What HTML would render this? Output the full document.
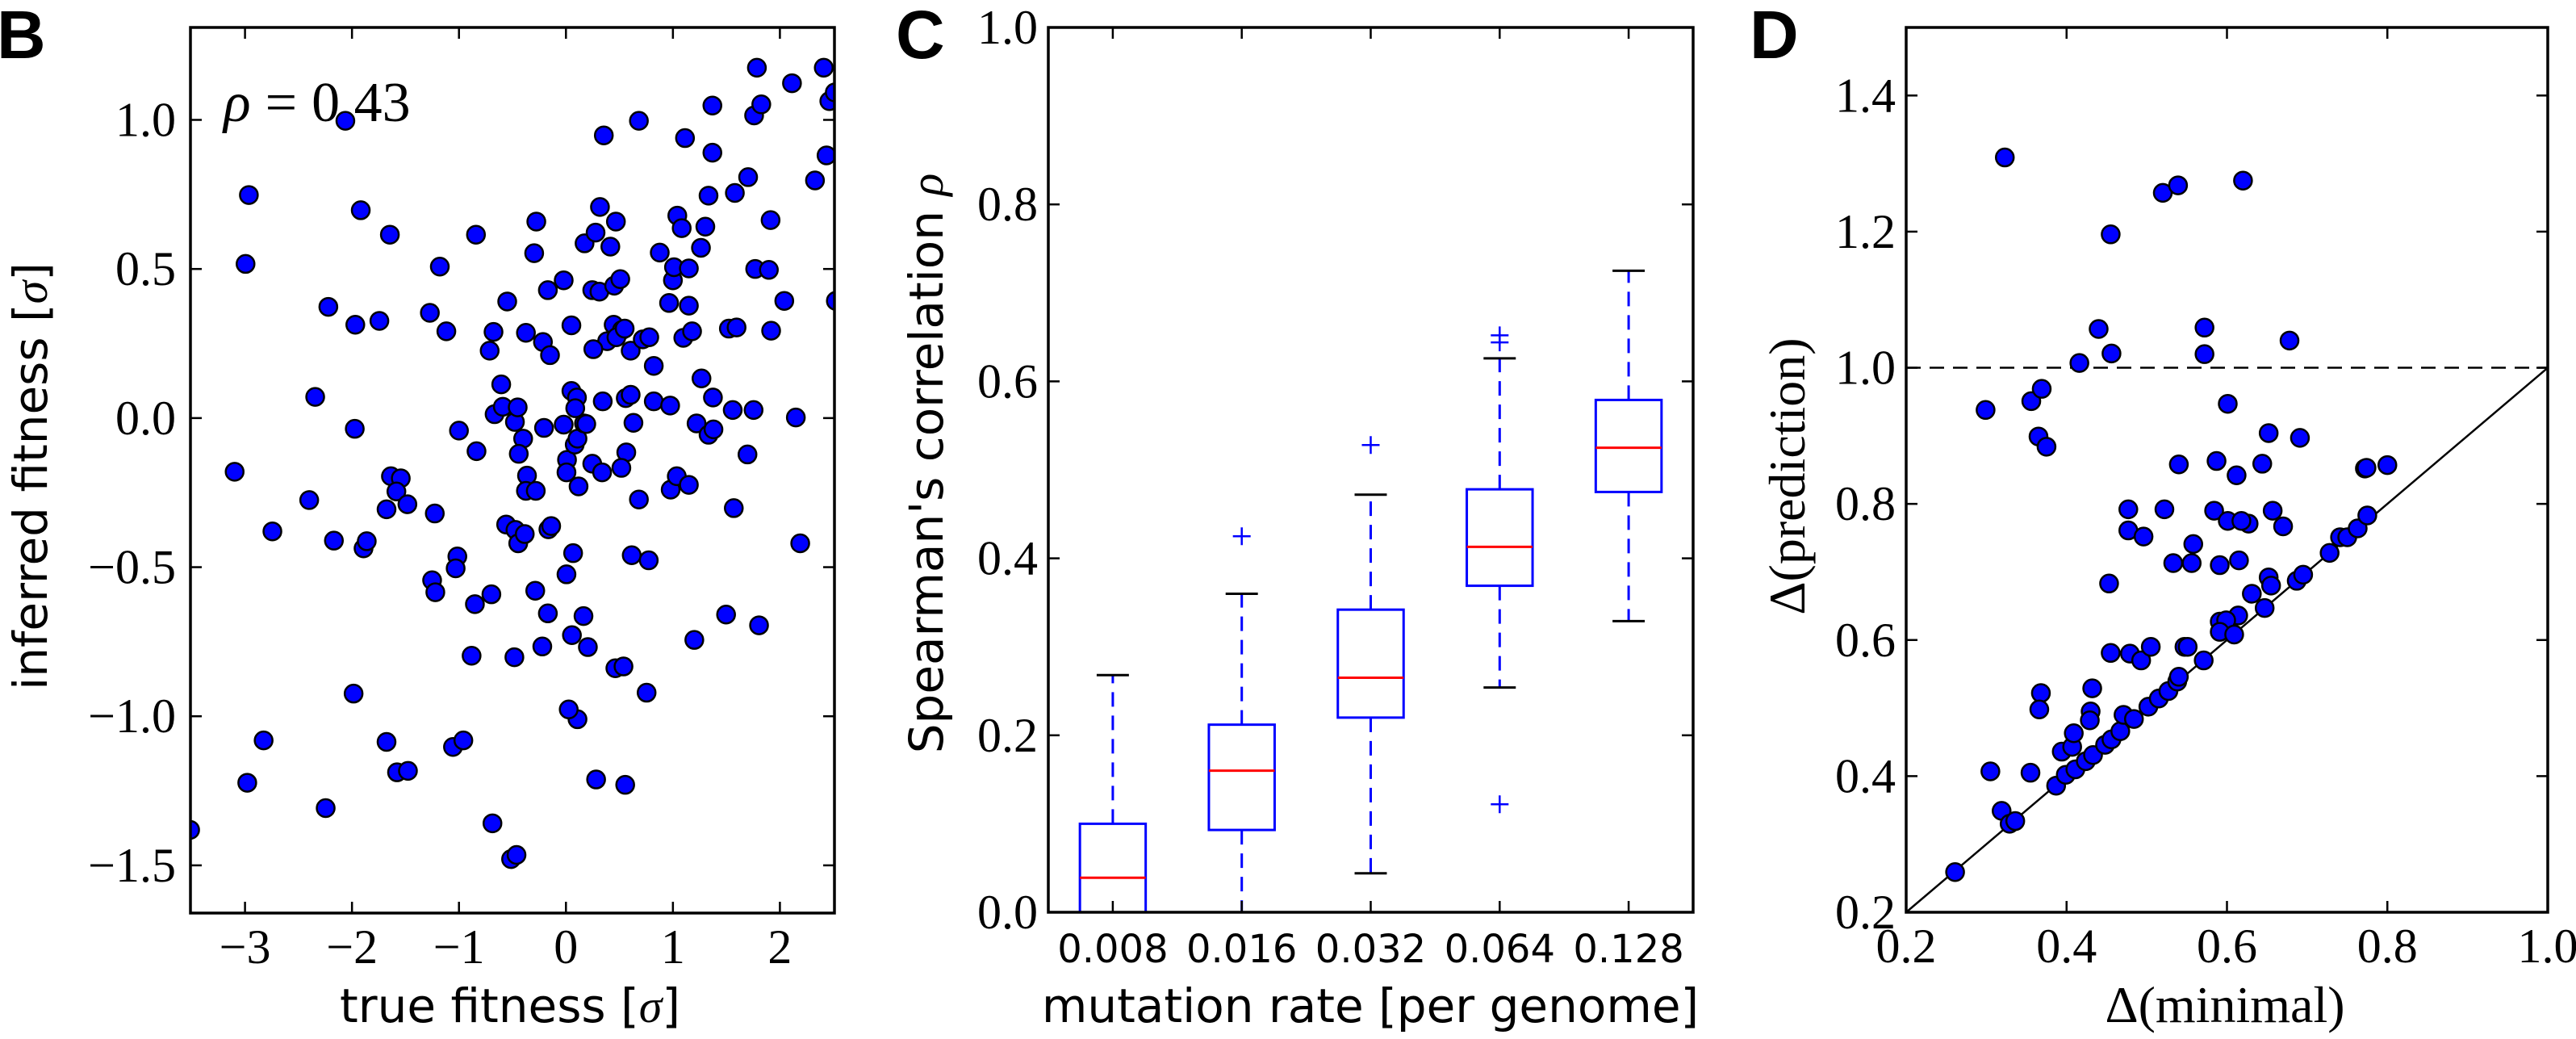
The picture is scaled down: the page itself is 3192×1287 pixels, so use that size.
<!DOCTYPE html>
<html><head><meta charset="utf-8"><style>
html,body{margin:0;padding:0;background:#fff;}
svg{display:block;}
.tk{font-family:"Liberation Serif",serif;font-size:60px;fill:#000;}
.ctk{font-family:"DejaVu Sans","Liberation Sans",sans-serif;font-size:48px;fill:#000;}
.lab{font-family:"DejaVu Sans","Liberation Sans",sans-serif;font-size:58px;fill:#000;}
.slab{font-family:"Liberation Serif",serif;font-size:64px;fill:#000;}
.pl{font-family:"Liberation Sans",sans-serif;font-weight:bold;font-size:84px;fill:#000;}
</style></head><body>
<svg id="fig" width="3192" height="1287" viewBox="0 0 3192 1287" xmlns="http://www.w3.org/2000/svg">
<text class="pl" x="-4" y="72">B</text>
<text class="pl" x="1110" y="72">C</text>
<text class="pl" x="2168" y="72">D</text>
<text x="277" y="150" style="font-family:'Liberation Serif',serif;font-size:70px;"><tspan font-style="italic">ρ</tspan><tspan dx="18">=</tspan><tspan dx="18">0.43</tspan></text>
<text class="lab" x="632" y="1266" text-anchor="middle">true fitness [<tspan font-family="Liberation Serif" font-style="italic">σ</tspan>]</text>
<text class="lab" transform="translate(58,590) rotate(-90)" text-anchor="middle">inferred fitness [<tspan font-family="Liberation Serif" font-style="italic">σ</tspan>]</text>
<text class="lab" x="1698" y="1266" text-anchor="middle">mutation rate [per genome]</text>
<text class="lab" transform="translate(1168,574) rotate(-90)" text-anchor="middle">Spearman's correlation <tspan font-family="Liberation Serif" font-style="italic">ρ</tspan></text>
<text class="slab" x="2757" y="1266" text-anchor="middle">Δ(minimal)</text>
<text class="slab" transform="translate(2236,590) rotate(-90)" text-anchor="middle">Δ(prediction)</text>
</svg>
<script>
// Panel B data
const bTrue = [];
const bInferred = [];
const bRaw = [[628,183],[452,295],[446,399],[426,713],[562,756],[573,600],[597,464],[646,491],[645,648],[656,318],[690,485],[709,355],[607,817],[661,829],[667,818],[711,720],[729,723],[721,743],[741,762],[703,770],[495,803],[479,1119],[449,1183],[592,1221],[643,1048],[703,1121],[722,1167],[742,1165],[824,1129],[843,1119],[345,1254],[782,473],[800,403],[812,501],[866,355],[835,651],[867,682],[791,776],[832,841],[829,859],[786,877],[792,895],[864,913],[858,991],[894,898],[896,1244],[930,1298],[940,1292],[936,993],[891,530],[898,502],[912,581],[923,456],[900,626],[915,615],[937,638],[942,616],[952,663],[944,686],[959,719],[957,742],[975,742],[921,793],[938,801],[943,821],[955,807],[974,893],[987,977],[997,927],[998,800],[1003,795],[990,647],[1026,642],[1032,695],[1031,714],[1031,868],[1043,836],[1041,960],[1051,1087],[1035,1072],[1085,1178],[1138,1186],[1120,1010],[1135,1007],[1177,1047],[1070,978],[1062,931],[1150,839],[1181,847],[1163,755],[1053,735],[1046,672],[1051,663],[1063,640],[1040,591],[1050,601],[1047,617],[1067,641],[1078,701],[1096,714],[1097,607],[1139,602],[1148,597],[1153,639],[1140,684],[1131,707],[976,335],[972,383],[957,503],[988,517],[1001,537],[997,439],[1026,424],[1040,492],[1064,368],[1078,439],[1084,352],[1091,441],[1092,313],[1099,205],[1111,373],[1121,335],[1118,432],[1129,422],[1117,491],[1105,516],[1132,499],[1122,510],[1137,497],[1080,528],[1148,530],[1163,183],[1170,513],[1182,510],[1190,553],[1201,382],[1190,607],[1218,458],[1220,613],[1221,740],[1232,720],[1225,424],[1227,404],[1233,326],[1241,345],[1247,209],[1254,406],[1254,462],[1244,511],[1260,501],[1254,733],[1264,967],[1268,640],[1277,572],[1284,343],[1276,375],[1290,296],[1297,231],[1297,160],[1290,657],[1299,649],[1298,601],[1334,620],[1338,292],[1336,768],[1322,929],[1327,497],[1341,495],[1362,268],[1361,687],[1372,620],[1373,175],[1378,103],[1386,158],[1375,407],[1400,408],[1403,333],[1404,500],[1382,945],[1428,455],[1442,126],[1449,631],[1457,821],[1484,273],[1505,235],[1510,153],[1500,103],[1520,140],[1522,455]];
bRaw.forEach(p=>{bTrue.push(+((p[0]-1030)/195).toFixed(3));bInferred.push(+((632-p[1])/450.4).toFixed(3));});
const bXTicks = [-3,-2,-1,0,1,2];
const bYTicks = [-1.5,-1.0,-0.5,0.0,0.5,1.0];

// Panel C data
const cCategories = ["0.008","0.016","0.032","0.064","0.128"];
const cWhiskerLow = [-0.2,-0.2,0.044,0.254,0.329];
const cQ1 = [-0.03,0.093,0.220,0.369,0.475];
const cMedian = [0.039,0.160,0.265,0.413,0.525];
const cQ3 = [0.100,0.212,0.342,0.478,0.579];
const cWhiskerHigh = [0.268,0.360,0.472,0.626,0.725];
const cOutliers = [[],[0.425],[0.528],[0.652,0.644,0.122],[]];
const cYTicks = [0.0,0.2,0.4,0.6,0.8,1.0];

// Panel D data
const dMinimal = [];
const dPrediction = [];
const dRaw = [[588,238],[859,292],[885,281],[997,273],[769,355],[748,497],[771,534],[716,549],[931,495],[930,535],[1077,515],[555,620],[633,606],[651,588],[645,660],[659,675],[971,610],[1041,655],[1095,662],[886,702],[951,697],[985,718],[1029,701],[1206,708],[1245,703],[862,770],[800,770],[799,802],[826,811],[947,772],[971,787],[1006,791],[994,787],[1047,772],[1066,795],[877,851],[911,822],[908,851],[957,854],[989,847],[766,882],[1041,872],[1045,885],[1012,897],[988,930],[956,939],[967,937],[956,955],[982,959],[1034,919],[769,987],[803,988],[822,998],[838,977],[896,977],[902,977],[929,998],[650,1047],[646,1072],[737,1040],[735,1075],[734,1088],[563,1165],[632,1167],[582,1225],[596,1244],[605,1240],[502,1317],[675,1187],[685,1135],[703,1128],[706,1108],[692,1170],[709,1162],[726,1150],[739,1141],[760,1125],[770,1117],[786,1105],[791,1080],[809,1086],[834,1068],[852,1055],[869,1044],[884,1030],[886,1022],[1089,878],[1100,868],[1146,835],[1163,812],[1175,812],[1193,799],[1210,779],[1208,707]];
dRaw.forEach(p=>{dMinimal.push(+(0.2+(p[0]-418)/275.5*0.2).toFixed(3));dPrediction.push(+(0.2+(1378-p[1])/205.5*0.2).toFixed(3));});
const dXTicks = [0.2,0.4,0.6,0.8,1.0];
const dYTicks = [0.2,0.4,0.6,0.8,1.0,1.2,1.4];

const NS="http://www.w3.org/2000/svg";
const svg=document.getElementById('fig');
function mk(tag,attrs,parent){const e=document.createElementNS(NS,tag);for(const k in attrs)e.setAttribute(k,attrs[k]);(parent||svg).appendChild(e);return e;}
function scale(d0,d1,p0,p1){return v=>p0+(v-d0)/(d1-d0)*(p1-p0);}

function axesFrame(name,L,R,T,B,xs,ys,xt,yt,xfmt,yfmt,ylabX,xcls){
  const g=mk('g',{});
  
  
  xt.forEach((v,i)=>{const x=xs(v);
    const t1=mk('line',{x1:x,x2:x,y1:B,y2:B-14,stroke:'#000','stroke-width':2.5},g);
    
    
    mk('line',{x1:x,x2:x,y1:T,y2:T+14,stroke:'#000','stroke-width':2.5},g);
    const tx=mk('text',{x:x,y:B+62,'text-anchor':'middle',class:xcls||'tk'},g);
    tx.textContent=xfmt(v,i);
    
    
  });
  yt.forEach(v=>{const y=ys(v);
    const t1=mk('line',{x1:L,x2:L+14,y1:y,y2:y,stroke:'#000','stroke-width':2.5},g);
    
    
    mk('line',{x1:R,x2:R-14,y1:y,y2:y,stroke:'#000','stroke-width':2.5},g);
    const tx=mk('text',{x:ylabX,y:y+20,'text-anchor':'end',class:'tk'},g);
    tx.textContent=yfmt(v);
    
    
  });
  return g;
}
function border(name,L,R,T,B){
  const r=mk('rect',{x:L,y:T,width:R-L,height:B-T,fill:'none',stroke:'#000','stroke-width':3.5});
  
  
}
const neg=s=>s.replace('-','−');

// ---- Panel B ----
{const L=236,R=1034,T=34,B=1131;
 const xs=scale(-3.51,2.51,L,R), ys=scale(-1.66,1.31,B,T);
 const cpb=mk('clipPath',{id:'clipB'});
 mk('rect',{x:L,y:T,width:R-L,height:B-T},cpb);
 const g=mk('g',{'clip-path':'url(#clipB)'});
 
 
 bTrue.forEach((v,i)=>{const c=mk('circle',{cx:xs(v),cy:ys(bInferred[i]),r:11,fill:'#0000ff',stroke:'#000','stroke-width':2.5},g);
   
   });
 axesFrame('b',L,R,T,B,xs,ys,bXTicks,bYTicks,v=>neg(String(v)),v=>neg(v.toFixed(1)),218);
 border('b',L,R,T,B);
}
// ---- Panel C ----
{const L=1299,R=2098,T=34,B=1130;
 const xs=scale(0.5,5.5,L,R), ys=scale(0,1,B,T);
 const cpc=mk('clipPath',{id:'clipC'});
 mk('rect',{x:L,y:T,width:R-L,height:B-T},cpc);
 cCategories.forEach((c,i)=>{const x=xs(i+1),hw=xs(1.255)-xs(1),cw=xs(1.125)-xs(1);
   const g=mk('g',{'clip-path':'url(#clipC)'});
   
   
   mk('line',{x1:x,x2:x,y1:ys(cQ3[i]),y2:ys(cWhiskerHigh[i]),stroke:'#0000ff','stroke-width':3,'stroke-dasharray':'18,11'},g);
   mk('line',{x1:x,x2:x,y1:ys(cQ1[i]),y2:ys(cWhiskerLow[i]),stroke:'#0000ff','stroke-width':3,'stroke-dasharray':'18,11'},g);
   mk('line',{x1:x-cw,x2:x+cw,y1:ys(cWhiskerHigh[i]),y2:ys(cWhiskerHigh[i]),stroke:'#000','stroke-width':3},g);
   mk('line',{x1:x-cw,x2:x+cw,y1:ys(cWhiskerLow[i]),y2:ys(cWhiskerLow[i]),stroke:'#000','stroke-width':3},g);
   mk('rect',{x:x-hw,y:ys(cQ3[i]),width:2*hw,height:ys(cQ1[i])-ys(cQ3[i]),fill:'none',stroke:'#0000ff','stroke-width':3},g);
   const m=mk('line',{x1:x-hw,x2:x+hw,y1:ys(cMedian[i]),y2:ys(cMedian[i]),stroke:'#ff0000','stroke-width':3},g);
   
   
   cOutliers[i].forEach(o=>{const y=ys(o);
     const p=mk('path',{d:`M${x-11},${y}H${x+11}M${x},${y-11}V${y+11}`,stroke:'#0000ff','stroke-width':2.5,fill:'none'},g);
     
     });
 });
 axesFrame('c',L,R,T,B,xs,ys,[1,2,3,4,5],cYTicks,(v,i)=>cCategories[i],v=>v.toFixed(1),1286,'ctk');
 border('c',L,R,T,B);
}
// ---- Panel D ----
{const L=2362,R=3157,T=34,B=1130;
 const xs=scale(0.2,1.0,L,R), ys=scale(0.2,1.5,B,T);
 const dl=mk('line',{x1:xs(0.2),x2:xs(1.0),y1:ys(1.0),y2:ys(1.0),stroke:'#000','stroke-width':2.5,'stroke-dasharray':'18,11'});
 
 
 const id=mk('line',{x1:xs(0.2),x2:xs(1.0),y1:ys(0.2),y2:ys(1.0),stroke:'#000','stroke-width':2.5});
 
 
 const g=mk('g',{});
 
 
 dMinimal.forEach((v,i)=>{const c=mk('circle',{cx:xs(v),cy:ys(dPrediction[i]),r:11,fill:'#0000ff',stroke:'#000','stroke-width':2.5},g);
   
   });
 axesFrame('d',L,R,T,B,xs,ys,dXTicks,dYTicks,v=>v.toFixed(1),v=>v.toFixed(1),2349);
 border('d',L,R,T,B);
}
</script>
</body></html>
